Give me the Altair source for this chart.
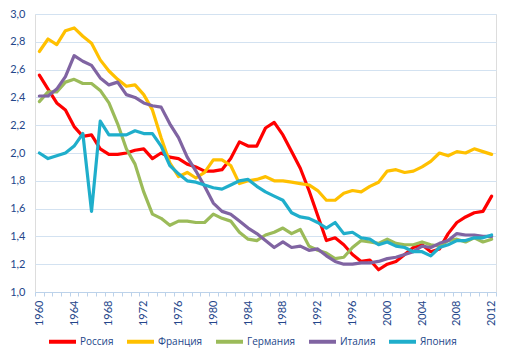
import altair as alt
import pandas as pd

years = list(range(1960, 2013))

russia = [2.56, 2.46, 2.36, 2.31, 2.19, 2.12, 2.13, 2.03, 1.99, 1.99,
          2.00, 2.02, 2.03, 1.96, 2.00, 1.97, 1.96, 1.92, 1.90, 1.87,
          1.87, 1.88, 1.96, 2.08, 2.05, 2.05, 2.18, 2.22, 2.13, 2.01,
          1.89, 1.73, 1.55, 1.37, 1.39, 1.34, 1.27, 1.22, 1.23, 1.16,
          1.20, 1.22, 1.27, 1.32, 1.34, 1.29, 1.31, 1.42, 1.50, 1.54,
          1.57, 1.58, 1.69]
france = [2.73, 2.82, 2.78, 2.88, 2.90, 2.84, 2.79, 2.67, 2.59, 2.53,
          2.48, 2.49, 2.42, 2.31, 2.11, 1.93, 1.83, 1.86, 1.82, 1.86,
          1.95, 1.95, 1.91, 1.78, 1.80, 1.81, 1.83, 1.80, 1.80, 1.79,
          1.78, 1.77, 1.73, 1.66, 1.66, 1.71, 1.73, 1.72, 1.76, 1.79,
          1.87, 1.88, 1.86, 1.87, 1.90, 1.94, 2.00, 1.98, 2.01, 2.00,
          2.03, 2.01, 1.99]
germany = [2.37, 2.44, 2.44, 2.51, 2.53, 2.50, 2.50, 2.45, 2.36, 2.21,
           2.03, 1.92, 1.72, 1.56, 1.53, 1.48, 1.51, 1.51, 1.50, 1.50,
           1.56, 1.53, 1.51, 1.43, 1.38, 1.37, 1.41, 1.43, 1.46, 1.42,
           1.45, 1.33, 1.30, 1.28, 1.24, 1.25, 1.32, 1.37, 1.36, 1.35,
           1.38, 1.35, 1.34, 1.34, 1.36, 1.34, 1.33, 1.37, 1.38, 1.36,
           1.39, 1.36, 1.38]
italy = [2.41, 2.41, 2.46, 2.55, 2.70, 2.66, 2.63, 2.54, 2.49, 2.51,
         2.42, 2.40, 2.36, 2.34, 2.33, 2.21, 2.11, 1.97, 1.87, 1.76,
         1.64, 1.58, 1.56, 1.51, 1.46, 1.42, 1.37, 1.32, 1.36, 1.32,
         1.33, 1.30, 1.31, 1.26, 1.22, 1.20, 1.20, 1.21, 1.21, 1.22,
         1.24, 1.25, 1.27, 1.29, 1.33, 1.32, 1.35, 1.37, 1.42, 1.41,
         1.41, 1.40, 1.40]
japan = [2.00, 1.96, 1.98, 2.00, 2.05, 2.14, 1.58, 2.23, 2.13, 2.13,
         2.13, 2.16, 2.14, 2.14, 2.05, 1.91, 1.85, 1.80, 1.79, 1.77,
         1.75, 1.74, 1.77, 1.80, 1.81, 1.76, 1.72, 1.69, 1.66, 1.57,
         1.54, 1.53, 1.50, 1.46, 1.50, 1.42, 1.43, 1.39, 1.38, 1.34,
         1.36, 1.33, 1.32, 1.29, 1.29, 1.26, 1.32, 1.34, 1.37, 1.37,
         1.39, 1.39, 1.41]

series_names = ["Россия", "Франция", "Германия", "Италия", "Япония"]
series_values = [russia, france, germany, italy, japan]
series_colors = ["#FF0000", "#FFC000", "#9BBB59", "#8064A2", "#1FAECB"]
y_ticks = [1.0, 1.2, 1.4, 1.6, 1.8, 2.0, 2.2, 2.4, 2.6, 2.8, 3.0]

rows = []
for order, (name, vals) in enumerate(zip(series_names, series_values)):
    for yr, v in zip(years, vals):
        rows.append({"year": yr, "value": v, "country": name, "order": order})
df = pd.DataFrame(rows)

text_color = "#24468A"
font = "Lato"
legend_font = "Open Sans"

chart = alt.Chart(df).mark_line(strokeWidth=3.2, strokeJoin="round", strokeCap="round").encode(
    x=alt.X("year:O",
            scale=alt.Scale(type="band", paddingInner=0, paddingOuter=0),
            axis=alt.Axis(title=None, tickBand="extent", labelAngle=-90,
                          labelExpr="datum.value % 4 == 0 ? datum.label : ''",
                          labelOverlap=False, labelFontSize=11, labelFont=font,
                          labelColor=text_color, labelPadding=4,
                          domainColor="#BCD2EA", tickColor="#BCD2EA", tickSize=4,
                          grid=False)),
    y=alt.Y("value:Q",
            scale=alt.Scale(domain=[1.0, 3.0], nice=False, zero=False),
            axis=alt.Axis(title=None, values=y_ticks,
                          labelExpr="replace(format(datum.value, '.1f'), '.', ',')",
                          labelFontSize=11, labelFont=font, labelColor=text_color,
                          labelPadding=10, ticks=False, domain=False,
                          gridColor="#D3E2F1", gridWidth=1)),
    color=alt.Color("country:N",
                    scale=alt.Scale(domain=series_names, range=series_colors),
                    legend=alt.Legend(title=None, orient="none", direction="horizontal",
                                      legendX=12, legendY=312,
                                      symbolType="stroke", symbolSize=729,
                                      symbolStrokeWidth=4, labelFontSize=10,
                                      labelFont=legend_font, labelColor=text_color,
                                      labelOffset=2, columnPadding=5)),
    order=alt.Order("order:Q"),
    detail="country:N",
).properties(
    width=461, height=278,
    autosize=alt.AutoSizeParams(type="none"),
    padding={"left": 27, "top": 6, "right": 5, "bottom": 60},
).configure_view(stroke=None).configure(background="white")

chart.save("out.html", embed_options={"renderer": "svg", "actions": False})
